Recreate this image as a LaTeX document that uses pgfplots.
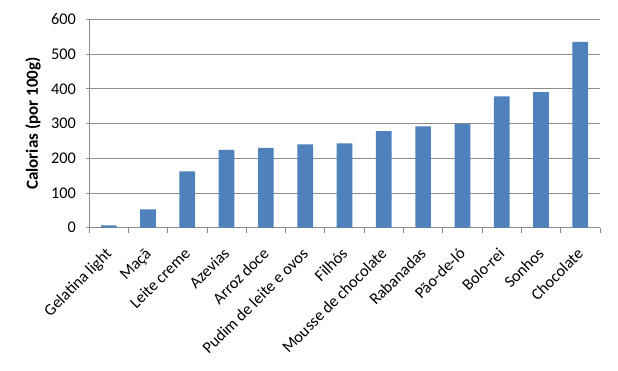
\documentclass[border=0pt]{standalone}
\usepackage{fontspec}
\setmainfont{Carlito}
\usepackage{pgfplots}
\pgfplotsset{compat=1.18}
\definecolor{barblue}{HTML}{4F81BD}
\definecolor{gridgray}{HTML}{8C8C8C}
\begin{document}
\fontsize{16.3bp}{19bp}\selectfont
\begin{tikzpicture}
\path[use as bounding box] (-89bp,-143.3bp) rectangle (529bp,227.7bp);
\begin{axis}[
  at={(0,0)}, anchor=south west,
  scale only axis, width=511bp, height=208.4bp,
  xmin=-0.5, xmax=12.5, ymin=0, ymax=600,
  ytick={0,100,...,600},
  xtick={0,...,12},
  xticklabels={Gelatina light, Maçã, Leite creme, Azevias, Arroz doce, Pudim de leite e ovos, Filhós, Mousse de chocolate, Rabanadas, Pão-de-ló, Bolo-rei, Sonhos, Chocolate},
  minor xtick={-0.5,0.5,...,12.5},
  axis x line*=bottom, axis y line*=left,
  ymajorgrids, grid style={gridgray, line width=0.8bp},
  axis line style={gridgray, line width=0.8bp},
  tick align=outside, major tick length=3bp, minor tick length=5bp,
  tick style={gridgray, line width=0.8bp},
  every major x tick/.append style={draw=none},
  /pgf/number format/assume math mode=true,
  yticklabel style={font=\fontsize{16.3bp}{19bp}\selectfont, inner sep=0pt, xshift=-10bp},
  xticklabel style={font=\fontsize{16.3bp}{19bp}\selectfont, inner sep=0pt, xshift=4bp, yshift=-24bp, rotate=45, anchor=base east},
  ylabel={\bfseries Calorias (por 100g)},
  ylabel style={font=\fontsize{17bp}{20bp}\selectfont, at={(axis description cs:-0.1096,0.5)}, anchor=center},
  ybar, bar width=15.7bp,
]
\addplot[fill=barblue, draw=none] coordinates {
  (0,7) (1,53) (2,162) (3,224) (4,230) (5,240) (6,243)
  (7,278) (8,292) (9,299) (10,378) (11,390) (12,535)
};
\end{axis}
\end{tikzpicture}
\end{document}
